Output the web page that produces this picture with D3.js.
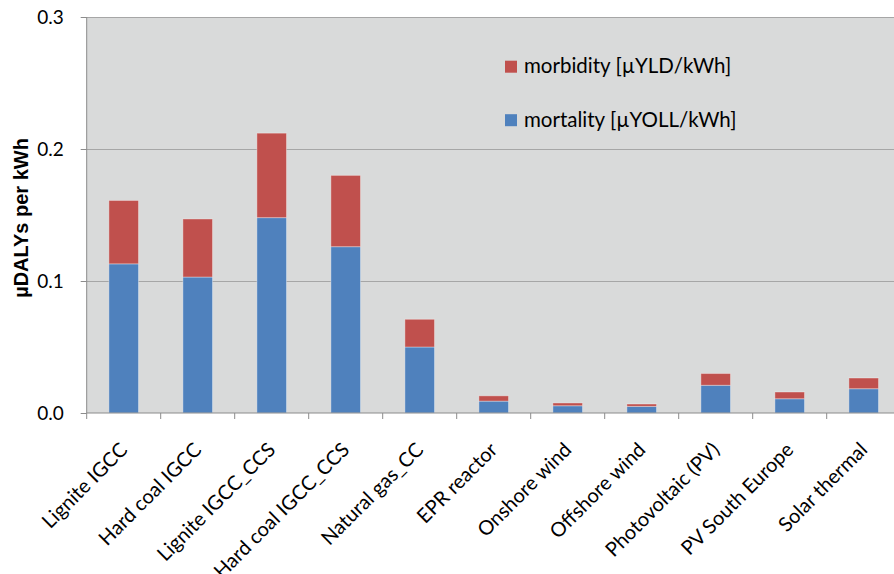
<!DOCTYPE html>
<html>
<head>
<meta charset="utf-8">
<script src="https://cdn.jsdelivr.net/npm/d3@7"></script>
<style>
  body { margin: 0; background: #fff; }
  svg { display: block; }
  .axis-y text { font-family: Lato, sans-serif; font-size: 19px; fill: #000; }
  .axis-y .domain { display: none; }
  .axis-y line { stroke: #8c8c8c; }
  .grid line { stroke: #a6a6a6; stroke-width: 1.2; }
  .grid .domain { display: none; }
  .xlabel { font-family: Lato, sans-serif; font-size: 20px; fill: #000; }
  .legend text { font-family: Lato, sans-serif; font-size: 20.5px; fill: #000; }
  .ytitle { font-family: "Liberation Sans", Arial, sans-serif; font-size: 20px; font-weight: bold; }
</style>
</head>
<body>
<svg id="chart" width="894" height="574"></svg>
<script>
// values (µDALYs per kWh)
const categories = [
  "Lignite IGCC",
  "Hard coal IGCC",
  "Lignite IGCC_CCS",
  "Hard coal IGCC_CCS",
  "Natural gas_CC",
  "EPR reactor",
  "Onshore wind",
  "Offshore wind",
  "Photovoltaic (PV)",
  "PV South Europe",
  "Solar thermal",
];
const mortality = [0.113, 0.103, 0.148, 0.126, 0.050, 0.009, 0.0055, 0.005, 0.021, 0.0108, 0.0184];
const morbidity = [0.048, 0.044, 0.064, 0.054, 0.021, 0.004, 0.0021, 0.0018, 0.0089, 0.0051, 0.0081];
const yTicks = [0, 0.1, 0.2, 0.3];
const seriesNames = ["morbidity [\u00b5YLD/kWh]", "mortality [\u00b5YOLL/kWh]"];
const seriesColors = {mortality: "#4f81bd", morbidity: "#c0504d"};

const margin = {top: 17, left: 86.7, bottom: 161};
const plotWidth = 814;
const plotHeight = 396;

const svg = d3.select("#chart");

let data = categories.map(function(c, i) {
  return {category: c, mortality: mortality[i], morbidity: morbidity[i]};
});
let stack = d3.stack().keys(["mortality", "morbidity"]);
let series = stack(data);

let xScale = d3.scaleBand()
  .domain(categories)
  .range([margin.left, margin.left + plotWidth])
  .paddingInner(0.6)
  .paddingOuter(0.3);
let yScale = d3.scaleLinear()
  .domain([0, 0.3])
  .range([margin.top + plotHeight, margin.top]);

// plot area
svg.append("rect")
  .attr("x", margin.left)
  .attr("y", margin.top)
  .attr("width", plotWidth)
  .attr("height", plotHeight)
  .attr("fill", "#d9dada");

// gridlines
svg.append("g")
  .attr("class", "grid")
  .attr("transform", "translate(" + margin.left + ",0)")
  .call(d3.axisLeft(yScale).tickValues(yTicks.slice(1)).tickSize(-plotWidth).tickFormat(""));

// bars
svg.append("g")
  .selectAll("g")
  .data(series)
  .enter()
  .append("g")
  .attr("fill", function(s) { return seriesColors[s.key]; })
  .selectAll("rect")
  .data(function(s) { return s; })
  .enter()
  .append("rect")
  .attr("x", function(d) { return xScale(d.data.category); })
  .attr("y", function(d) { return yScale(d[1]); })
  .attr("width", xScale.bandwidth())
  .attr("height", function(d) { return yScale(d[0]) - yScale(d[1]); })
  .attr("stroke", "rgba(255,255,255,0.35)")
  .attr("stroke-width", 1);

// y axis
svg.append("g")
  .attr("class", "axis-y")
  .attr("transform", "translate(" + margin.left + ",0)")
  .call(d3.axisLeft(yScale).tickValues(yTicks).tickFormat(d3.format(".1f")).tickSize(6).tickPadding(17));

svg.append("line")
  .attr("x1", margin.left).attr("x2", margin.left)
  .attr("y1", margin.top).attr("y2", margin.top + plotHeight)
  .attr("stroke", "#8c8c8c");

// x axis with ticks between categories
let baseY = yScale(0);
let step = xScale.step();
svg.append("line")
  .attr("x1", margin.left).attr("x2", margin.left + plotWidth)
  .attr("y1", baseY).attr("y2", baseY)
  .attr("stroke", "#8c8c8c")
  .attr("stroke-width", 1.2);

svg.append("g")
  .selectAll("line")
  .data(categories)
  .enter()
  .append("line")
  .attr("x1", function(d) { return xScale(d) - step * 0.3; })
  .attr("x2", function(d) { return xScale(d) - step * 0.3; })
  .attr("y1", baseY)
  .attr("y2", baseY + 6)
  .attr("stroke", "#8c8c8c");

svg.append("g")
  .selectAll("text")
  .data(categories)
  .enter()
  .append("text")
  .attr("class", "xlabel")
  .attr("text-anchor", "end")
  .attr("transform", function(d) {
    return "translate(" + (xScale(d) + xScale.bandwidth() / 2 + 5) + "," + (baseY + 38) + ") rotate(-45)";
  })
  .text(function(d) { return d; });

// y title
svg.append("text")
  .attr("class", "ytitle")
  .attr("text-anchor", "middle")
  .attr("transform", "translate(28,218) rotate(-90)")
  .text("\u00b5DALYs per kWh");

// legend
let legend = svg.append("g").attr("class", "legend");
let legendKeys = ["morbidity", "mortality"];
legendKeys.forEach(function(k, i) {
  let cy = 66.7 + i * 53.5;
  legend.append("rect")
    .attr("x", 505).attr("y", cy - 6)
    .attr("width", 12).attr("height", 12)
    .attr("fill", seriesColors[k]);
  legend.append("text")
    .attr("x", 524).attr("y", cy + 6.5)
    .text(seriesNames[i]);
});
</script>
</body>
</html>
